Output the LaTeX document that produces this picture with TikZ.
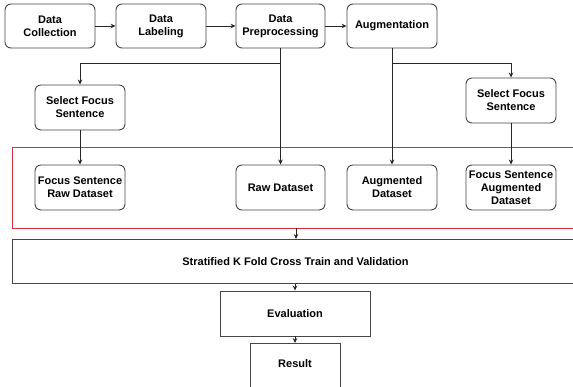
\documentclass[tikz,border=0pt]{standalone}
\usepackage{fontspec}
\setmainfont{Liberation Sans}
\usetikzlibrary{arrows.meta}
\definecolor{edgegray}{RGB}{70,70,70}
\definecolor{redline}{RGB}{215,45,60}
\begin{document}
\begin{tikzpicture}[x=1pt,y=-1pt,
  rbox/.style={draw=edgegray,line width=0.9pt,rounded corners=6pt,fill=white,
    font=\bfseries\fontsize{11}{13}\selectfont,align=center,inner sep=0pt},
  sbox/.style={draw=edgegray,line width=0.9pt,fill=white,
    font=\bfseries\fontsize{11}{13}\selectfont,align=center,inner sep=0pt},
  conn/.style={draw=black!85,line width=0.8pt},
  arr/.style={conn,-{Stealth[length=5pt,width=4.5pt]}}]
\useasboundingbox (0,0) rectangle (573,387);
\clip (0,0) rectangle (573,387);
% red region
\draw[redline,line width=0.9pt] (12,147) rectangle (580,228);
% top row
\node[rbox,minimum width=90pt,minimum height=44pt] (dc) at (50,26) {Data\\Collection};
\node[rbox,minimum width=90pt,minimum height=44pt] (dl) at (161,26) {Data\\Labeling};
\node[rbox,minimum width=89pt,minimum height=44pt] (dp) at (280.5,26) {Data\\Preprocessing};
\node[rbox,minimum width=90pt,minimum height=44pt] (au) at (392,26) {Augmentation};
% select focus
\node[rbox,minimum width=90pt,minimum height=45pt] (sf1) at (80,107.5) {Select Focus\\Sentence};
\node[rbox,minimum width=90pt,minimum height=45pt] (sf2) at (511,100.5) {Select Focus\\Sentence};
% datasets
\node[rbox,minimum width=90pt,minimum height=45pt] (fsr) at (80,187.5) {Focus Sentence\\Raw Dataset};
\node[rbox,minimum width=89pt,minimum height=45pt] (raw) at (280.5,187.5) {Raw Dataset};
\node[rbox,minimum width=90pt,minimum height=45pt] (aug) at (392,187.5) {Augmented\\Dataset};
\node[rbox,minimum width=90pt,minimum height=45pt] (fsa) at (511,187.5) {Focus Sentence\\Augmented\\Dataset};
% bottom
\node[sbox,minimum width=566pt,minimum height=44pt,anchor=north west] (skf) at (12,239) {Stratified K Fold Cross Train and Validation};
\node[sbox,minimum width=150pt,minimum height=45pt] (ev) at (295,313.5) {Evaluation};
\node[sbox,minimum width=90pt,minimum height=60pt,anchor=north] (re) at (295,343) {\raisebox{20pt}{Result}};
\coordinate (redbot) at (296,228);
% connectors
\draw[arr] (dc.east) -- (dl.west);
\draw[arr] (dl.east) -- (dp.west);
\draw[arr] (dp.east) -- (au.west);
\draw[arr] (dp.south) -- (raw.north);
\draw[arr] (dp.south |- 0,63) -| (sf1.north);
\draw[arr] (au.south) -- (aug.north);
\draw[arr] (au.south |- 0,63) -| (sf2.north);
\draw[arr] (sf1.south) -- (fsr.north);
\draw[arr] (sf2.south) -- (fsa.north);
\draw[arr] (redbot) -- (redbot |- skf.north);
\draw[arr] (ev.north |- skf.south) -- (ev.north);
\draw[arr] (ev.south) -- (re.north);
\end{tikzpicture}
\end{document}
